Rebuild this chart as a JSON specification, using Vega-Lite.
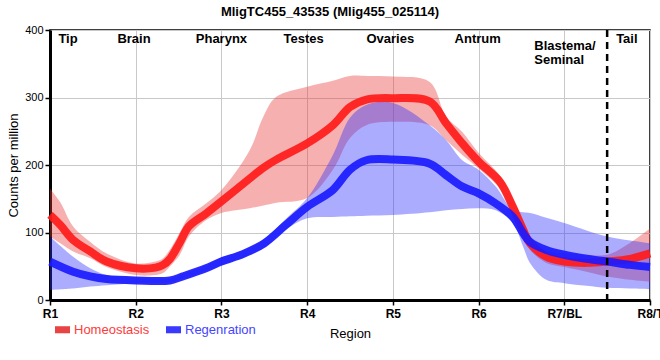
{
  "$schema": "https://vega.github.io/schema/vega-lite/v6.json",
  "width": 600,
  "height": 270,
  "autosize": {"type": "none"},
  "padding": {"left": 50, "top": 30, "right": 10, "bottom": 60},
  "background": "white",
  "title": {"text": "MligTC455_43535 (Mlig455_025114)", "font": "Liberation Sans", "fontSize": 13, "fontWeight": "bold", "color": "black", "anchor": "middle", "frame": "group", "dx": -20, "offset": 5},
  "config": {
    "view": {"stroke": "black", "strokeWidth": 1.5},
    "font": "Liberation Sans"
  },
  "datasets": {
    "curves": [
      {"group": "Homeostasis", "pos": 0, "cpm": 126, "low": 94, "high": 165},
      {"group": "Homeostasis", "pos": 0.12, "cpm": 111, "low": 84, "high": 145},
      {"group": "Homeostasis", "pos": 0.27, "cpm": 89, "low": 72, "high": 109},
      {"group": "Homeostasis", "pos": 0.47, "cpm": 72, "low": 62, "high": 86},
      {"group": "Homeostasis", "pos": 0.66, "cpm": 57, "low": 49, "high": 69},
      {"group": "Homeostasis", "pos": 1.0, "cpm": 47, "low": 37, "high": 54},
      {"group": "Homeostasis", "pos": 1.23, "cpm": 48, "low": 37, "high": 57},
      {"group": "Homeostasis", "pos": 1.32, "cpm": 52, "low": 40, "high": 62},
      {"group": "Homeostasis", "pos": 1.4, "cpm": 61, "low": 50, "high": 75},
      {"group": "Homeostasis", "pos": 1.51, "cpm": 84, "low": 66, "high": 99},
      {"group": "Homeostasis", "pos": 1.62, "cpm": 109, "low": 94, "high": 123},
      {"group": "Homeostasis", "pos": 1.82, "cpm": 128, "low": 118, "high": 143},
      {"group": "Homeostasis", "pos": 2.0, "cpm": 146, "low": 129, "high": 163},
      {"group": "Homeostasis", "pos": 2.33, "cpm": 180, "low": 136, "high": 222},
      {"group": "Homeostasis", "pos": 2.49, "cpm": 196, "low": 140, "high": 272},
      {"group": "Homeostasis", "pos": 2.64, "cpm": 208, "low": 144, "high": 301},
      {"group": "Homeostasis", "pos": 3.0, "cpm": 232, "low": 151, "high": 316},
      {"group": "Homeostasis", "pos": 3.3, "cpm": 259, "low": 193, "high": 325},
      {"group": "Homeostasis", "pos": 3.5, "cpm": 286, "low": 240, "high": 332},
      {"group": "Homeostasis", "pos": 3.69, "cpm": 297, "low": 259, "high": 332},
      {"group": "Homeostasis", "pos": 4.0, "cpm": 299, "low": 264, "high": 331},
      {"group": "Homeostasis", "pos": 4.43, "cpm": 294, "low": 259, "high": 323},
      {"group": "Homeostasis", "pos": 4.62, "cpm": 262, "low": 237, "high": 272},
      {"group": "Homeostasis", "pos": 4.81, "cpm": 232, "low": 215, "high": 249},
      {"group": "Homeostasis", "pos": 5.0, "cpm": 205, "low": 195, "high": 218},
      {"group": "Homeostasis", "pos": 5.25, "cpm": 175, "low": 165, "high": 184},
      {"group": "Homeostasis", "pos": 5.4, "cpm": 138, "low": 128, "high": 150},
      {"group": "Homeostasis", "pos": 5.52, "cpm": 104, "low": 92, "high": 116},
      {"group": "Homeostasis", "pos": 5.6, "cpm": 84, "low": 74, "high": 95},
      {"group": "Homeostasis", "pos": 5.79, "cpm": 64, "low": 55, "high": 73},
      {"group": "Homeostasis", "pos": 6.0, "cpm": 57, "low": 49, "high": 69},
      {"group": "Homeostasis", "pos": 6.26, "cpm": 55, "low": 42, "high": 67},
      {"group": "Homeostasis", "pos": 6.5, "cpm": 57, "low": 35, "high": 67},
      {"group": "Homeostasis", "pos": 6.77, "cpm": 61, "low": 30, "high": 85},
      {"group": "Homeostasis", "pos": 7.0, "cpm": 69, "low": 27, "high": 106},
      {"group": "Regenration", "pos": 0, "cpm": 57, "low": 15, "high": 94},
      {"group": "Regenration", "pos": 0.27, "cpm": 42, "low": 17, "high": 64},
      {"group": "Regenration", "pos": 0.47, "cpm": 35, "low": 20, "high": 47},
      {"group": "Regenration", "pos": 0.66, "cpm": 31, "low": 22, "high": 37},
      {"group": "Regenration", "pos": 1.0, "cpm": 29, "low": 25, "high": 33},
      {"group": "Regenration", "pos": 1.4, "cpm": 29, "low": 26, "high": 32},
      {"group": "Regenration", "pos": 1.55, "cpm": 35, "low": 31, "high": 39},
      {"group": "Regenration", "pos": 1.82, "cpm": 47, "low": 43, "high": 51},
      {"group": "Regenration", "pos": 2.0, "cpm": 57, "low": 52, "high": 63},
      {"group": "Regenration", "pos": 2.25, "cpm": 68, "low": 63, "high": 73},
      {"group": "Regenration", "pos": 2.5, "cpm": 84, "low": 78, "high": 90},
      {"group": "Regenration", "pos": 2.75, "cpm": 111, "low": 104, "high": 120},
      {"group": "Regenration", "pos": 3.0, "cpm": 138, "low": 121, "high": 151},
      {"group": "Regenration", "pos": 3.3, "cpm": 163, "low": 123, "high": 215},
      {"group": "Regenration", "pos": 3.5, "cpm": 193, "low": 124, "high": 270},
      {"group": "Regenration", "pos": 3.69, "cpm": 207, "low": 125, "high": 289},
      {"group": "Regenration", "pos": 4.0, "cpm": 208, "low": 126, "high": 292},
      {"group": "Regenration", "pos": 4.43, "cpm": 202, "low": 130, "high": 259},
      {"group": "Regenration", "pos": 4.62, "cpm": 185, "low": 133, "high": 237},
      {"group": "Regenration", "pos": 4.81, "cpm": 168, "low": 135, "high": 207},
      {"group": "Regenration", "pos": 5.0, "cpm": 158, "low": 136, "high": 193},
      {"group": "Regenration", "pos": 5.2, "cpm": 143, "low": 133, "high": 168},
      {"group": "Regenration", "pos": 5.4, "cpm": 123, "low": 114, "high": 133},
      {"group": "Regenration", "pos": 5.52, "cpm": 99, "low": 79, "high": 130},
      {"group": "Regenration", "pos": 5.6, "cpm": 86, "low": 55, "high": 129},
      {"group": "Regenration", "pos": 5.79, "cpm": 74, "low": 30, "high": 122},
      {"group": "Regenration", "pos": 6.0, "cpm": 67, "low": 25, "high": 114},
      {"group": "Regenration", "pos": 6.26, "cpm": 61, "low": 21, "high": 103},
      {"group": "Regenration", "pos": 6.5, "cpm": 57, "low": 18, "high": 94},
      {"group": "Regenration", "pos": 6.77, "cpm": 52, "low": 17, "high": 88},
      {"group": "Regenration", "pos": 7.0, "cpm": 49, "low": 16, "high": 84}
    ],
    "regions": [
      {"name": "Tip", "pos": 0.21},
      {"name": "Brain", "pos": 0.98},
      {"name": "Pharynx", "pos": 2.0},
      {"name": "Testes", "pos": 2.96},
      {"name": "Ovaries", "pos": 3.97},
      {"name": "Antrum", "pos": 4.99},
      {"name": "Tail", "pos": 6.73}
    ],
    "regions2": [
      {"name": "Blastema/\nSeminal", "pos": 5.65}
    ],
    "divider": [
      {"pos": 6.5}
    ]
  },
  "layer": [
    {
      "data": {"name": "curves"},
      "mark": {"type": "area", "interpolate": "catmull-rom", "fillOpacity": 0.4, "strokeOpacity": 0.35, "strokeWidth": 1},
      "encoding": {
        "x": {"field": "pos", "type": "quantitative", "scale": {"domain": [0, 7], "nice": false, "zero": false},
          "axis": {"values": [0, 1, 2, 3, 4, 5, 6, 7], "labelExpr": "['R1','R2','R3','R4','R5','R6','R7/BL','R8/T'][datum.value]", "title": "Region",
            "titleFontSize": 13, "titleFontWeight": "normal", "titleColor": "black", "titlePadding": 8,
            "labelFontSize": 12, "labelFontWeight": "bold", "labelColor": "black", "labelPadding": 3, "labelFlush": false, "labelOverlap": false,
            "domainColor": "black", "domainWidth": 3, "tickColor": "black", "tickSize": 5, "tickWidth": 1.5,
            "grid": true, "gridColor": "#c8c8c8", "gridWidth": 1}},
        "y": {"field": "low", "type": "quantitative", "scale": {"domain": [0, 400], "nice": false},
          "axis": {"values": [0, 50, 100, 150, 200, 250, 300, 350, 400], "title": "Counts per million",
            "titleFontSize": 13, "titleFontWeight": "normal", "titleColor": "black", "titlePadding": 4,
            "labelFontSize": 11, "labelColor": "black", "labelPadding": 2,
            "domainColor": "black", "domainWidth": 3, "tickColor": "black", "tickSize": 5, "tickWidth": 1.5,
            "grid": true, "gridColor": "#c8c8c8", "gridWidth": 1}},
        "y2": {"field": "high"},
        "color": {"field": "group", "type": "nominal",
          "scale": {"domain": ["Homeostasis", "Regenration"], "range": ["#e83a3a", "#2f2fff"]},
          "legend": {"title": null, "orient": "none", "legendX": 5, "legendY": 292, "direction": "horizontal",
            "symbolType": "M-1,-0.47H1V0.47H-1Z", "symbolSize": 225, "symbolStrokeWidth": 0, "symbolOpacity": 1,
            "labelFontSize": 13, "labelOffset": 4, "columnPadding": 16,
            "encode": {
              "symbols": {"update": {"fill": {"scale": "color", "field": "value"}, "fillOpacity": {"value": 0.95}, "opacity": {"value": 1}, "strokeWidth": {"value": 0}}},
              "labels": {"update": {"fill": {"signal": "datum.value === 'Homeostasis' ? '#ff3a3a' : '#4545ff'"}}}
            }}}
      }
    },
    {
      "data": {"name": "curves"},
      "mark": {"type": "line", "interpolate": "catmull-rom", "strokeWidth": 8, "opacity": 0.92},
      "encoding": {
        "x": {"field": "pos", "type": "quantitative"},
        "y": {"field": "cpm", "type": "quantitative"},
        "color": {"field": "group", "type": "nominal",
          "scale": {"domain": ["Homeostasis", "Regenration"], "range": ["#ff1a1a", "#1a1aff"]}},
        "order": {"field": "pos"},
        "detail": {"field": "group"}
      }
    },
    {
      "data": {"name": "divider"},
      "mark": {"type": "rule", "color": "black", "strokeWidth": 2.5, "strokeDash": [7, 5]},
      "encoding": {"x": {"field": "pos", "type": "quantitative"}}
    },
    {
      "data": {"name": "regions"},
      "mark": {"type": "text", "font": "Liberation Sans", "fontSize": 13, "fontWeight": "bold", "color": "black", "align": "center", "baseline": "middle"},
      "encoding": {
        "x": {"field": "pos", "type": "quantitative"},
        "y": {"datum": 386},
        "text": {"field": "name"}
      }
    },
    {
      "data": {"name": "regions2"},
      "mark": {"type": "text", "font": "Liberation Sans", "fontSize": 13, "fontWeight": "bold", "color": "black", "align": "left", "baseline": "middle", "lineBreak": "\n", "lineHeight": 14, "dy": 7},
      "encoding": {
        "x": {"field": "pos", "type": "quantitative"},
        "y": {"datum": 386},
        "text": {"field": "name"}
      }
    }
  ],
  "resolve": {"scale": {"color": "independent"}, "legend": {"color": "independent"}}
}
